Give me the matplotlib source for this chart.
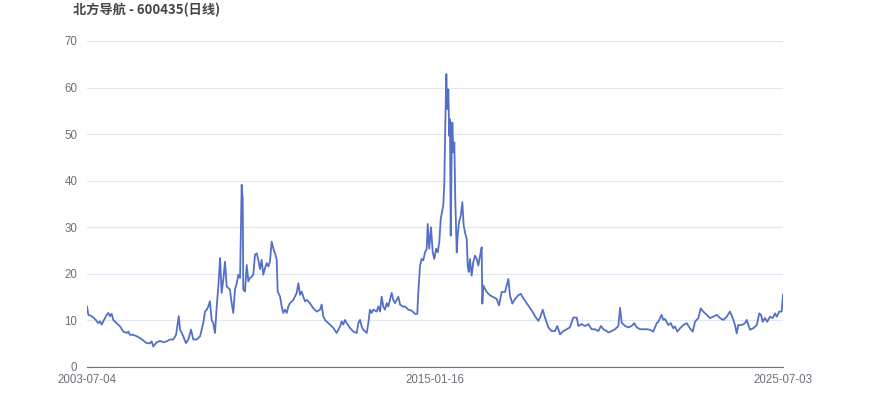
import matplotlib
matplotlib.use("Agg")
import matplotlib.pyplot as plt

plt.rcParams['font.family'] = ['Liberation Sans', 'Noto Sans CJK SC', 'DejaVu Sans']

title = "北方导航 - 600435(日线)"
tick_labels = ["2003-07-04", "2015-01-16", "2025-07-03"]
n_days = 5221  # trading days in the series

day = [0, 10, 35, 60, 85, 98, 110, 122, 148, 160, 172, 185, 197, 223, 248, 272, 298, 310, 322, 347,
       373, 398, 422, 448, 472, 485, 497, 523, 548, 572, 598, 622, 647, 668, 688, 698, 710, 722, 742, 760,
       780, 797, 823, 848, 872, 885, 898, 910, 922, 935, 947, 960, 973, 985, 998, 1010, 1022, 1035, 1048, 1072,
       1085, 1097, 1110, 1123, 1135, 1148, 1160, 1168, 1172, 1185, 1198, 1210, 1222, 1235, 1247, 1260, 1273, 1285, 1298, 1310,
       1322, 1335, 1348, 1360, 1372, 1385, 1397, 1410, 1423, 1430, 1448, 1460, 1472, 1485, 1498, 1510, 1522, 1547, 1573, 1585,
       1598, 1610, 1622, 1635, 1648, 1672, 1697, 1723, 1748, 1760, 1772, 1785, 1810, 1822, 1847, 1873, 1898, 1910, 1922, 1935,
       1948, 1972, 1997, 2023, 2035, 2048, 2060, 2072, 2098, 2110, 2122, 2135, 2147, 2173, 2185, 2198, 2210, 2222, 2235, 2248,
       2260, 2272, 2285, 2297, 2310, 2335, 2348, 2372, 2385, 2410, 2435, 2460, 2477, 2485, 2498, 2510, 2522, 2535, 2548, 2555,
       2567, 2580, 2593, 2605, 2618, 2630, 2642, 2653, 2662, 2672, 2680, 2687, 2695, 2702, 2710, 2717, 2722, 2728, 2735, 2740,
       2747, 2755, 2762, 2773, 2780, 2790, 2803, 2815, 2825, 2835, 2848, 2855, 2863, 2872, 2885, 2897, 2910, 2923, 2935, 2948,
       2960, 2965, 2972, 2985, 2998, 3022, 3047, 3073, 3090, 3110, 3135, 3160, 3172, 3190, 3210, 3235, 3253, 3272, 3298, 3322,
       3347, 3360, 3385, 3398, 3418, 3435, 3460, 3485, 3510, 3527, 3548, 3572, 3598, 3622, 3647, 3673, 3685, 3710, 3735, 3760,
       3785, 3810, 3835, 3855, 3872, 3898, 3910, 3935, 3960, 3985, 3998, 4010, 4035, 4060, 4085, 4105, 4123, 4148, 4172, 4198,
       4222, 4247, 4273, 4285, 4298, 4310, 4322, 4335, 4360, 4378, 4397, 4410, 4427, 4448, 4472, 4498, 4522, 4543, 4560, 4585,
       4603, 4622, 4648, 4672, 4697, 4723, 4748, 4772, 4798, 4822, 4843, 4860, 4873, 4885, 4910, 4935, 4948, 4972, 4997, 5023,
       5042, 5055, 5068, 5085, 5102, 5122, 5143, 5160, 5173, 5192, 5210, 5220]
close = [13.0, 11.2, 10.9, 10.3, 9.4, 9.8, 9.1, 9.8, 11.2, 11.6, 10.9, 11.4, 10.1, 9.4, 8.7, 7.6, 7.3, 7.6, 6.9, 6.9,
         6.6, 6.2, 5.7, 5.1, 5.1, 5.5, 4.4, 5.3, 5.6, 5.3, 5.5, 5.9, 5.9, 6.9, 10.9, 8.0, 7.3, 6.6, 5.1, 5.9,
         8.0, 5.9, 5.9, 6.6, 9.4, 11.9, 12.3, 13.0, 14.1, 10.1, 9.4, 7.3, 13.0, 17.3, 23.4, 15.9, 18.7, 22.6, 17.3, 16.6,
         13.7, 11.6, 16.6, 18.0, 19.8, 19.1, 39.1, 35.9, 16.6, 16.2, 21.9, 18.4, 19.1, 19.4, 19.8, 24.1, 24.4, 23.0, 21.0, 23.0,
         19.8, 21.2, 22.3, 21.6, 22.6, 26.9, 25.5, 24.4, 23.0, 16.2, 15.1, 13.0, 11.6, 12.3, 11.6, 13.0, 13.7, 14.4, 15.9, 18.0,
         15.5, 16.2, 15.1, 14.1, 14.4, 13.7, 12.6, 11.9, 12.3, 13.4, 10.9, 10.1, 9.4, 9.1, 8.4, 7.3, 8.7, 9.8, 9.1, 10.1,
         9.4, 8.4, 7.6, 7.3, 9.4, 10.1, 8.7, 8.0, 7.3, 9.4, 12.3, 11.6, 12.3, 11.9, 13.0, 11.9, 15.1, 13.0, 12.3, 13.7,
         13.0, 14.4, 15.9, 14.4, 13.7, 15.1, 13.4, 12.9, 13.0, 12.3, 12.1, 11.4, 11.4, 16.1, 21.8, 23.2, 22.9, 24.6, 25.4, 30.7,
         25.4, 30.0, 24.6, 23.2, 25.4, 24.6, 26.8, 31.8, 33.2, 34.6, 39.6, 51.8, 62.9, 55.4, 59.6, 49.6, 53.2, 28.2, 46.1, 52.5,
         46.1, 48.2, 36.1, 24.6, 28.2, 31.1, 32.5, 35.4, 30.4, 28.9, 27.5, 21.8, 20.4, 23.2, 19.6, 22.5, 23.9, 23.2, 21.8, 23.9,
         25.7, 13.6, 17.5, 16.8, 16.1, 15.4, 15.0, 14.6, 13.2, 16.1, 16.1, 18.9, 15.4, 13.6, 14.6, 15.4, 15.7, 14.8, 13.7, 12.7,
         11.6, 10.9, 9.9, 10.6, 12.3, 10.6, 8.5, 7.7, 7.7, 8.8, 7.0, 7.7, 8.1, 8.5, 10.6, 10.6, 8.8, 9.2, 8.8, 9.2,
         8.1, 8.1, 7.7, 8.8, 8.1, 7.7, 7.4, 7.7, 8.1, 8.8, 12.7, 9.5, 8.8, 8.5, 8.8, 9.4, 8.5, 8.1, 8.1, 8.1,
         8.0, 7.6, 9.4, 9.7, 10.5, 11.2, 10.1, 10.3, 9.0, 9.4, 8.3, 8.7, 7.6, 8.3, 9.0, 9.4, 8.3, 7.6, 9.7, 10.5,
         12.6, 11.9, 11.2, 10.5, 10.8, 11.2, 10.5, 10.1, 10.8, 11.9, 10.5, 9.0, 7.2, 9.0, 9.0, 9.4, 10.1, 8.0, 8.3, 9.0,
         11.5, 11.2, 9.7, 10.5, 9.7, 10.8, 10.5, 11.5, 10.8, 11.9, 11.9, 15.5]

fig = plt.figure(figsize=(8.7, 4.17), dpi=100)
ax = fig.add_axes([0.1, 0.12, 0.8, 0.7817])

ax.plot(day, close, color="#5470c6", linewidth=1.3, solid_joinstyle="round")

ax.set_xlim(0, n_days - 1)
ax.set_ylim(0, 70)
ax.set_yticks(range(0, 71, 10))
ax.set_xticks([0, (n_days - 1) / 2, n_days - 1])
ax.set_xticklabels(tick_labels)

ax.grid(axis="y", color="#e0e6f1", linewidth=0.8)
ax.set_axisbelow(True)
for s in ["top", "right", "left"]:
    ax.spines[s].set_visible(False)
ax.spines["bottom"].set_color("#6e7079")
ax.spines["bottom"].set_linewidth(0.8)
ax.tick_params(axis="both", length=0, colors="#6e7079", labelsize=8.3)
ax.tick_params(axis="y", pad=7)
ax.tick_params(axis="x", pad=5)

fig.text(0.084, 0.977, title, fontsize=9.5, fontweight="bold", color="#464646",
         ha="left", va="center", family=["Noto Sans CJK SC", "DejaVu Sans"])

fig.savefig("out.png", dpi=100)
